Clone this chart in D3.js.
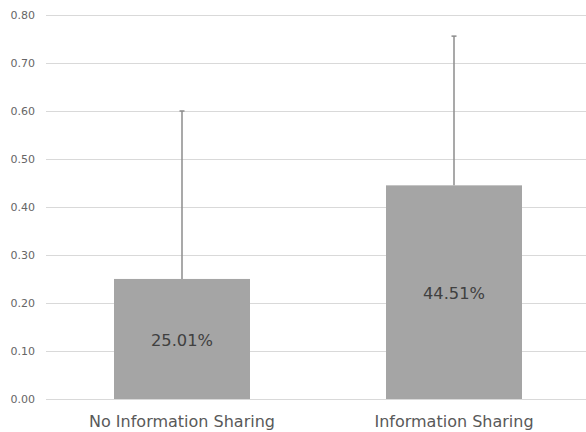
<!DOCTYPE html>
<html>
<head>
<meta charset="utf-8">
<script src="https://cdn.jsdelivr.net/npm/d3@7"></script>
<style>
  body { margin: 0; background: #fff; }
  text { font-family: "DejaVu Sans", Verdana, sans-serif; }
</style>
</head>
<body>
<div id="chart"></div>
<script>
const categories = ["No Information Sharing", "Information Sharing"];
const values = [0.2501, 0.4451];
const errorTops = [0.60, 0.756];
const barLabels = ["25.01%", "44.51%"];
const yTicks = [0, 0.1, 0.2, 0.3, 0.4, 0.5, 0.6, 0.7, 0.8];

const width = 586, height = 432;

const svg = d3.select("#chart").append("svg")
    .attr("width", width).attr("height", height);

const x = d3.scaleBand().domain(categories).range([46, 590])
    .paddingInner(0.5).paddingOuter(0.25);
const y = d3.scaleLinear().domain([0, 0.8]).range([399, 15]);

// grid
svg.append("g").selectAll("line")
    .data(yTicks)
    .join("line")
    .attr("x1", 46).attr("x2", width)
    .attr("y1", d => Math.round(y(d)) + 0.5).attr("y2", d => Math.round(y(d)) + 0.5)
    .attr("stroke", "#d9d9d9").attr("stroke-width", 1);

// y tick labels
svg.append("g").selectAll("text")
    .data(yTicks)
    .join("text")
    .attr("x", 35).attr("y", d => y(d))
    .attr("dy", "0.35em")
    .attr("text-anchor", "end")
    .attr("font-size", 11)
    .attr("fill", "#666666")
    .text(d => d3.format(".2f")(d));

// bars
svg.append("g").selectAll("rect")
    .data(values)
    .join("rect")
    .attr("x", (d, i) => x(categories[i]))
    .attr("width", x.bandwidth())
    .attr("y", d => y(d))
    .attr("height", d => y(0) - y(d))
    .attr("fill", "#a5a5a5");

// error bars
const err = svg.append("g");
err.selectAll("line.stem")
    .data(values)
    .join("line")
    .attr("class", "stem")
    .attr("x1", (d, i) => x(categories[i]) + x.bandwidth() / 2)
    .attr("x2", (d, i) => x(categories[i]) + x.bandwidth() / 2)
    .attr("y1", d => y(d))
    .attr("y2", (d, i) => y(errorTops[i]))
    .attr("stroke", "#8c8c8c").attr("stroke-width", 1.5);
err.selectAll("line.cap")
    .data(values)
    .join("line")
    .attr("class", "cap")
    .attr("x1", (d, i) => x(categories[i]) + x.bandwidth() / 2 - 2.5)
    .attr("x2", (d, i) => x(categories[i]) + x.bandwidth() / 2 + 2.5)
    .attr("y1", (d, i) => y(errorTops[i]))
    .attr("y2", (d, i) => y(errorTops[i]))
    .attr("stroke", "#8c8c8c").attr("stroke-width", 1.5);

// bar labels
svg.append("g").selectAll("text")
    .data(values)
    .join("text")
    .attr("x", (d, i) => x(categories[i]) + x.bandwidth() / 2)
    .attr("y", d => (y(d) + y(0)) / 2 + 1.5)
    .attr("dy", "0.35em")
    .attr("text-anchor", "middle")
    .attr("font-size", 16.3)
    .attr("fill", "#404040")
    .text((d, i) => barLabels[i]);

// category labels
svg.append("g").selectAll("text")
    .data(categories)
    .join("text")
    .attr("x", d => x(d) + x.bandwidth() / 2)
    .attr("y", 421)
    .attr("dy", "0.35em")
    .attr("text-anchor", "middle")
    .attr("font-size", 16)
    .attr("fill", "#595959")
    .text(d => d);
</script>
</body>
</html>
